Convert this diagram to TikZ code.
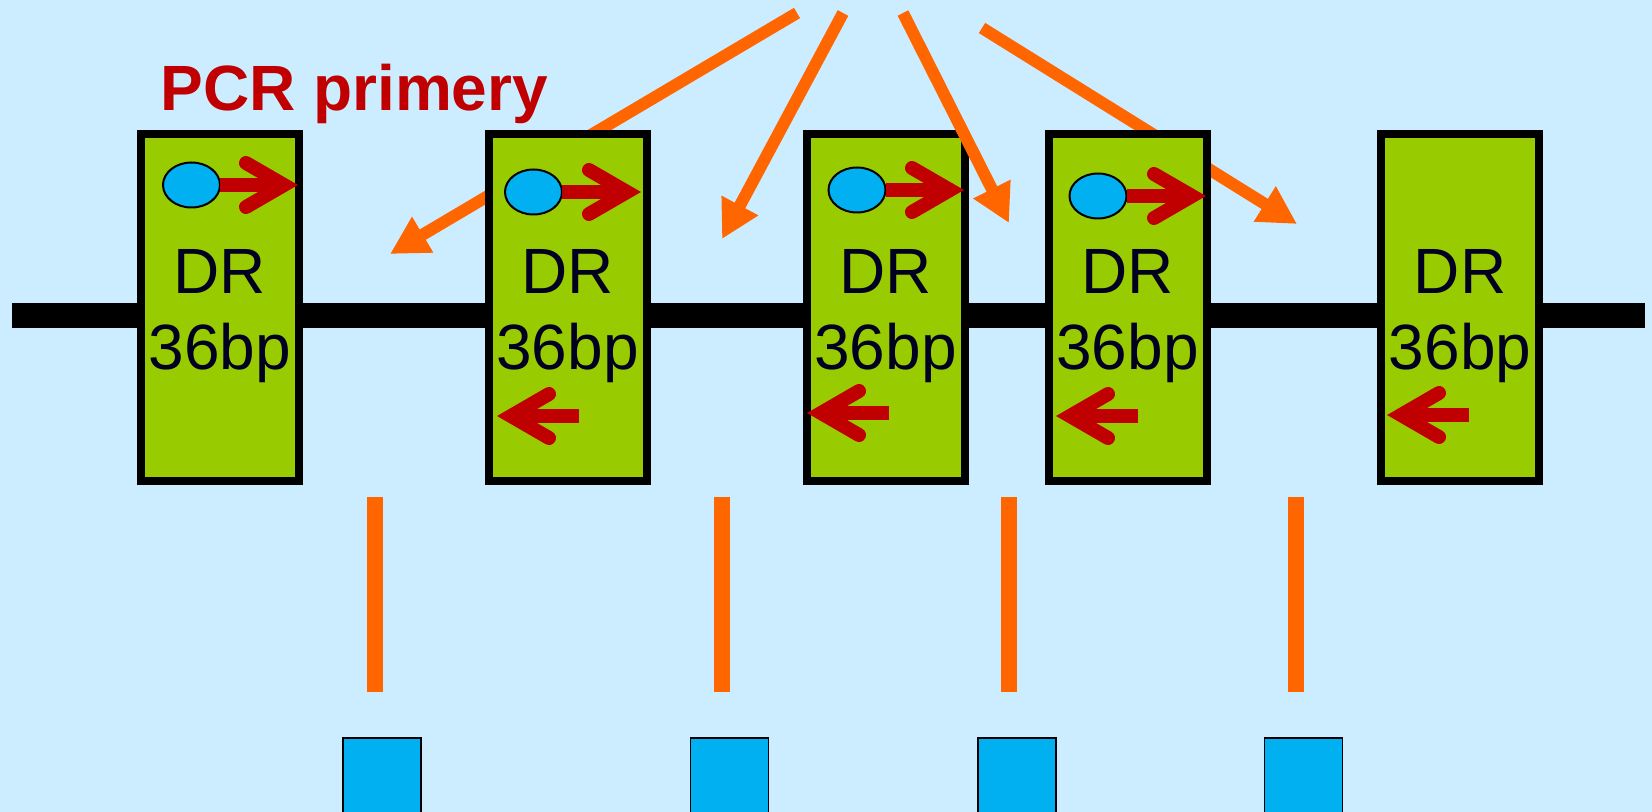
\documentclass[tikz,border=0pt]{standalone}
\usepackage{fontspec}
\setmainfont{Liberation Sans}
\usetikzlibrary{arrows.meta,shapes.geometric}
\definecolor{bgblue}{HTML}{CCECFF}
\definecolor{drgreen}{HTML}{99CC00}
\definecolor{primblue}{HTML}{00B0F0}
\definecolor{primred}{HTML}{C00000}
\definecolor{orng}{HTML}{FF6600}
\definecolor{navytext}{HTML}{000020}
\begin{document}
\begin{tikzpicture}[x=0.5pt,y=-0.5pt,
  drbox/.style={draw=black, line width=4pt, fill=drgreen, minimum width=79pt, minimum height=173.5pt, inner sep=0pt, outer sep=0pt},
  drlabel/.style={font=\fontsize{32}{38}\selectfont, text=navytext, anchor=base, inner sep=0pt},
  primer/.style={shape=ellipse, draw=black, line width=1pt, fill=primblue, minimum width=28.5pt, minimum height=22.5pt, inner sep=0pt, outer sep=0pt},
  redshaft/.style={draw=primred, line width=7pt},
  redhead/.style={draw=primred, line width=7pt, line cap=round, line join=miter},
  orangearrow/.style={draw=orng, line width=6pt, -{Triangle[length=19pt,width=19.5pt]}},
  orangebar/.style={fill=orng, minimum width=8pt, minimum height=97.5pt, inner sep=0pt, outer sep=0pt},
  bluesq/.style={draw=black, line width=0.8pt, fill=primblue, minimum width=39pt, minimum height=39pt, inner sep=0pt, outer sep=0pt},
  titletext/.style={font=\fontsize{32}{40}\selectfont\bfseries, text=primred, anchor=base west, inner sep=0pt}
]
\useasboundingbox (0,0) rectangle (1652,812);
\clip (0,0) rectangle (1652,812);
\fill[bgblue] (0,0) rectangle (1652,812);

% DNA line
\coordinate (lineL) at (12,315.5);
\coordinate (lineR) at (1645,315.5);
\draw[line width=12.5pt] (lineL) -- (lineR);

% orange arrows (behind boxes)
\coordinate (oA1) at (797,13);
\coordinate (oA2) at (390,254);
\coordinate (oB1) at (843,13);
\coordinate (oB2) at (722,239);
\coordinate (oC1) at (903,13);
\coordinate (oC2) at (1009,223);
\coordinate (oD1) at (982,28);
\coordinate (oD2) at (1297,224);
\draw[orangearrow] (oA1) -- (oA2);
\draw[orangearrow] (oD1) -- (oD2);

% boxes
\node[drbox] (b1) at (220,307.5) {};
\node[drbox] (b2) at (567.5,307.5) {};
\node[drbox] (b3) at (885.5,307.5) {};
\node[drbox] (b4) at (1127.5,307.5) {};
\node[drbox] (b5) at (1460,307.5) {};

% labels
\foreach \n/\x in {1/220,2/567.5,3/885.5,4/1127.5,5/1460}{
  \node[drlabel] (dr\n) at (\x,293) {DR};
  \node[drlabel] (bp\n) at (\x,369) {36bp};
}

% primers (top, forward)
\node[primer] (e1) at (191.5,185) {};
\node[primer] (e2) at (533.5,192) {};
\node[primer] (e3) at (857,190) {};
\node[primer] (e4) at (1098,196) {};

\coordinate (v1) at (284,185);
\draw[redshaft] (e1.east) -- (v1);
\draw[redhead] (246,163) -- (v1) -- (246,207);

\coordinate (v2) at (627,192);
\draw[redshaft] (e2.east) -- (v2);
\draw[redhead] (589,170) -- (v2) -- (589,214);

\coordinate (v3) at (950,190);
\draw[redshaft] (e3.east) -- (v3);
\draw[redhead] (912,168) -- (v3) -- (912,212);

\coordinate (v4) at (1192,196);
\draw[redshaft] (e4.east) -- (v4);
\draw[redhead] (1154,174) -- (v4) -- (1154,218);

% reverse primers (bottom)
\coordinate (w2) at (511,416);
\coordinate (s2) at (579,416);
\draw[redshaft] (s2) -- (w2);
\draw[redhead] (549,394) -- (w2) -- (549,438);

\coordinate (w3) at (821,413);
\coordinate (s3) at (889,413);
\draw[redshaft] (s3) -- (w3);
\draw[redhead] (859,391) -- (w3) -- (859,435);

\coordinate (w4) at (1070,416);
\coordinate (s4) at (1138,416);
\draw[redshaft] (s4) -- (w4);
\draw[redhead] (1108,394) -- (w4) -- (1108,438);

\coordinate (w5) at (1401,415);
\coordinate (s5) at (1469,415);
\draw[redshaft] (s5) -- (w5);
\draw[redhead] (1439,393) -- (w5) -- (1439,437);

% orange arrows (over boxes)
\draw[orangearrow] (oB1) -- (oB2);
\draw[orangearrow] (oC1) -- (oC2);

% orange bars
\node[orangebar] (ob1) at (375,594.5) {};
\node[orangebar] (ob2) at (722,594.5) {};
\node[orangebar] (ob3) at (1009,594.5) {};
\node[orangebar] (ob4) at (1296,594.5) {};

% blue squares
\node[bluesq] (sq1) at (382,777) {};
\node[bluesq] (sq2) at (729.5,777) {};
\node[bluesq] (sq3) at (1017,777) {};
\node[bluesq] (sq4) at (1303.5,777) {};

% title
\node[titletext] (title) at (160,111) {PCR primery};
\end{tikzpicture}
\end{document}
